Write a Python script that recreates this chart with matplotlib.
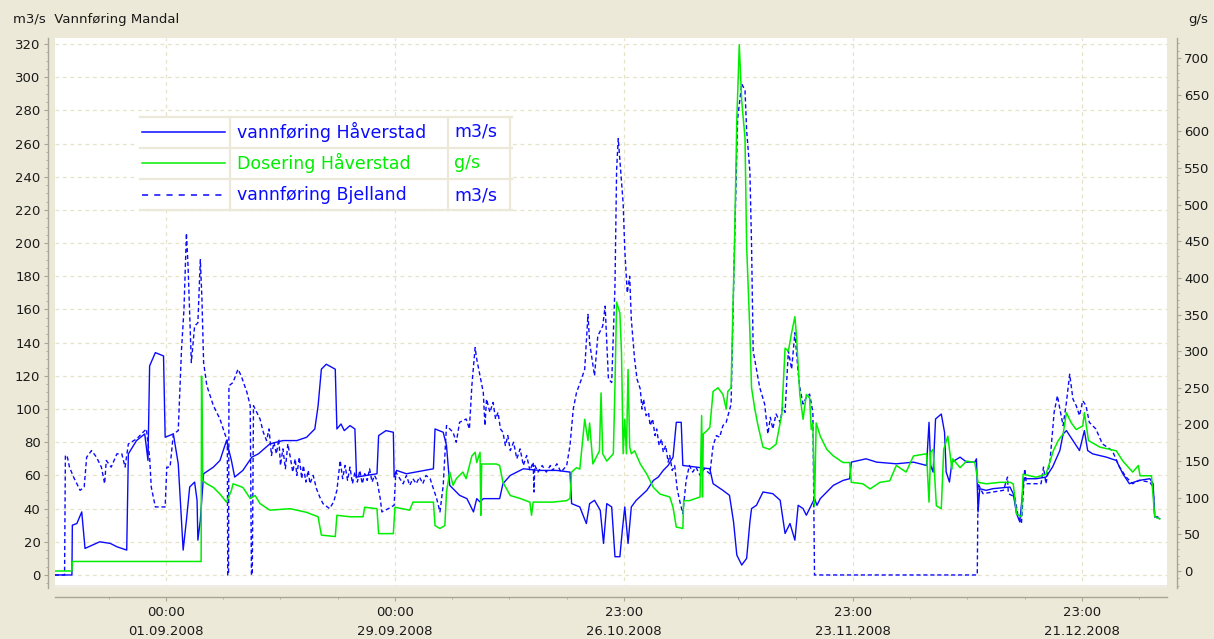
import matplotlib
matplotlib.use("Agg")
import matplotlib.pyplot as plt
from matplotlib.ticker import FixedLocator, MultipleLocator
from matplotlib.lines import Line2D
from matplotlib.patches import Rectangle

# ---------------- data (days elapsed since 01.09.2008 00:00) ----------------
hav_days = [-13.6, -11.5, -11.45, -10.9, -10.3, -10.1, -9.9, -9.0, -8.1, -6.8, -6.0, -4.8, -4.6, -3.6, -2.6,
            -2.2, -2.0, -1.3, -0.3, -0.1, 0.9, 1.5, 2.1, 2.5, 2.9, 3.5, 3.8, 3.9, 4.2, 4.6, 5.8, 6.6, 7.4,
            8.0, 8.4, 9.4, 10.5, 11.3, 12.7, 14.3, 16.0, 17.2, 18.2, 18.6, 19.0, 19.6, 20.7, 20.9, 21.4,
            21.8, 22.5, 23.1, 23.3, 24.5, 25.8, 26.0, 26.9, 27.8, 27.9, 28.2, 29.4, 30.5, 31.6, 32.7, 32.9,
            33.9, 34.3, 34.7, 35.9, 36.8, 37.6, 38.0, 38.4, 38.8, 40.8, 41.2, 42.1, 43.7, 45.7, 47.8, 49.4,
            49.6, 50.6, 51.4, 51.8, 52.4, 53.1, 53.5, 53.9, 54.5, 54.9, 55.5, 55.8, 56.1, 56.5, 56.9, 57.5,
            58.8, 59.6, 60.2, 60.8, 61.4, 62.0, 62.4, 63.0, 63.2, 64.9, 66.5, 66.9, 68.1, 68.9, 69.4, 69.8,
            70.4, 71.0, 71.4, 71.6, 72.2, 73.0, 74.2, 75.1, 75.7, 76.3, 76.9, 77.3, 77.9, 78.3, 78.9, 79.3,
            79.6, 80.0, 80.8, 81.6, 82.8, 83.6, 83.8, 85.6, 86.9, 89.3, 91.4, 93.0, 93.3, 93.5, 93.8, 94.1,
            94.8, 95.2, 95.4, 95.8, 96.1, 97.1, 97.9, 98.9, 99.1, 99.3, 99.5, 100.3, 101.1, 103.2, 103.6,
            104.0, 104.4, 104.9, 106.4, 107.6, 108.4, 109.3, 109.7, 110.1, 110.9, 111.7, 112.3, 112.7,
            113.3, 115.0, 116.2, 117.0, 117.8, 119.0, 120.3, 120.7, 120.9, 121.5]
hav_flow = [0, 0, 30, 31, 38, 27, 16, 18, 20, 19, 17, 15, 73, 81, 85,
            69, 126, 134, 132, 83, 85, 67, 15, 33, 53, 56, 45, 21, 33, 61, 65, 69, 81,
            69, 59, 63, 71, 73, 79, 81, 81, 83, 88, 102, 124, 127, 124, 88, 91,
            87, 90, 88, 59, 60, 61, 84, 87, 86, 59, 63, 61, 62, 63, 64, 88,
            86, 78, 54, 48, 46, 38, 46, 44, 46, 46, 55, 60, 64, 63, 63, 62,
            43, 41, 31, 43, 45, 39, 19, 43, 41, 11, 11, 27, 41, 19, 41, 45,
            51, 57, 59, 63, 66, 71, 92, 92, 66, 65, 64, 55, 51, 48, 32, 12,
            6, 10, 32, 40, 42, 50, 49, 45, 25, 31, 21, 42, 40, 36, 42, 46,
            42, 46, 50, 54, 57, 58, 68, 70, 68, 67, 68, 66, 92, 66, 62, 94,
            97, 86, 62, 56, 68, 71, 68, 68, 70, 38, 52, 51, 52, 53, 49,
            37, 32, 58, 58, 59, 65, 75, 85, 87, 81, 75, 87, 75,
            73, 71, 69, 61, 55, 57, 58, 55, 35, 34]

bje_days = [-13.6, -12.4, -12.3, -12.1, -11.8, -11.3, -10.9, -10.5, -10.0, -9.7, -9.1, -8.5, -7.9, -7.5, -7.3,
            -6.7, -6.0, -5.4, -5.0, -4.6, -3.6, -2.4, -2.0, -1.8, -1.3, -0.1, 0.1, 0.5, 0.9, 1.5, 1.9, 2.2,
            2.5, 2.7, 2.9, 3.1, 3.5, 3.9, 4.2, 4.4, 4.6, 5.0, 5.4, 5.8, 6.2, 6.6, 7.2, 7.5, 7.55, 7.65, 7.7,
            8.2, 8.8, 9.2, 9.9, 10.3, 10.45, 10.55, 10.7, 11.5, 11.9, 12.3, 12.6, 12.9, 13.2, 13.5, 13.8,
            14.0, 14.3, 14.6, 14.9, 15.2, 15.5, 15.8, 16.0, 16.3, 16.6, 16.8, 17.1, 17.4, 17.6, 18.0, 18.4,
            18.8, 19.2, 20.0, 20.5, 20.9, 21.3, 21.6, 21.9, 22.2, 22.5, 22.8, 23.1, 23.4, 23.7, 24.0, 24.3,
            24.6, 24.9, 25.2, 25.5, 25.8, 26.2, 26.4, 27.2, 27.9, 28.1, 28.6, 29.0, 29.4, 29.8, 30.2, 30.6,
            31.0, 31.4, 31.8, 32.3, 33.1, 33.5, 33.9, 34.3, 35.1, 35.5, 35.9, 36.7, 37.1, 37.4, 37.8, 38.0,
            38.4, 38.8, 39.0, 39.2, 39.6, 40.0, 40.3, 40.6, 40.9, 41.2, 41.5, 41.8, 42.1, 42.5, 42.9, 43.3,
            43.7, 44.1, 44.5, 44.9, 45.0, 45.1, 45.5, 46.0, 46.5, 47.0, 47.3, 47.8, 48.3, 49.0, 49.4, 49.8,
            50.2, 50.8, 51.2, 51.6, 51.8, 52.4, 52.8, 53.4, 53.7, 54.1, 54.5, 54.9, 55.1, 55.3, 55.5, 55.9,
            56.1, 56.4, 56.7, 56.9, 57.3, 57.6, 58.0, 58.2, 58.4, 58.7, 59.0, 59.2, 59.5, 59.8, 60.0, 60.3,
            60.6, 60.8, 61.1, 61.4, 61.6, 61.9, 62.2, 62.5, 62.8, 63.2, 63.6, 64.0, 64.4, 64.8, 65.3, 65.8,
            66.5, 66.9, 67.3, 67.7, 68.1, 68.5, 69.1, 69.5, 69.9, 70.4, 70.8, 71.0, 71.4, 71.6, 71.8, 72.2,
            72.6, 73.2, 73.6, 73.9, 74.2, 74.6, 75.1, 75.4, 75.7, 76.1, 76.5, 76.9, 77.3, 77.5, 77.9, 78.3,
            78.7, 79.1, 79.3, 99.2, 99.3, 99.9, 101.1, 102.4, 102.9, 103.0, 103.8, 104.2, 104.6, 105.0,
            105.2, 106.1, 107.0, 107.3, 107.6, 108.1, 108.6, 109.0, 109.3, 109.7, 110.1, 110.5, 110.9,
            111.3, 111.7, 112.1, 112.5, 112.9, 113.7, 114.5, 115.7, 116.6, 117.4, 118.2, 119.0, 120.3,
            120.7, 120.9, 121.5]
bje_flow = [0, 0, 72, 72, 65, 59, 55, 51, 53, 71, 75, 71, 65, 55, 69,
            65, 73, 73, 65, 79, 82, 88, 71, 53, 41, 41, 65, 65, 85, 87, 136, 160,
            206, 186, 156, 128, 150, 152, 190, 166, 128, 114, 108, 102, 98, 94, 85, 81, 0, 0, 114,
            116, 124, 120, 110, 102, 0, 0, 102, 94, 86, 81, 88, 72, 80, 73, 82,
            66, 76, 64, 79, 71, 62, 70, 60, 71, 58, 66, 56, 63, 55, 60, 52,
            47, 43, 40, 44, 51, 69, 58, 66, 57, 65, 55, 62, 56, 63, 55, 61,
            57, 64, 56, 60, 57, 46, 38, 40, 42, 62, 58, 55, 60, 54, 58, 55,
            59, 55, 60, 58, 46, 38, 54, 90, 86, 80, 92, 94, 88, 114, 137, 130,
            120, 110, 90, 106, 98, 104, 94, 98, 88, 86, 78, 84, 75, 80, 70, 76,
            66, 72, 63, 68, 50, 66, 62, 66, 62, 66, 63, 67, 62, 66, 78, 100,
            110, 118, 124, 157, 140, 120, 144, 150, 162, 118, 116, 174, 244, 263, 250, 224,
            196, 170, 180, 154, 130, 118, 112, 100, 106, 96, 98, 90, 94, 84, 88, 78,
            82, 74, 78, 68, 72, 63, 66, 52, 45, 37, 57, 66, 62, 65, 60, 64,
            61, 78, 84, 83, 90, 92, 103, 195, 275, 296, 292, 268, 243, 199, 135, 124,
            113, 103, 85, 95, 88, 97, 92, 101, 98, 135, 124, 146, 122, 113, 103, 107,
            109, 98, 0, 0, 55, 49, 50, 51, 59, 49, 47, 35, 31, 64,
            55, 55, 55, 65, 55, 69, 98, 108, 100, 90, 104, 121, 106,
            102, 96, 105, 102, 92, 88, 79, 75, 65, 59, 55, 57, 56,
            53, 35, 35]

dos_days = [-13.6, -11.5, -11.45, 4.3, 4.35, 4.5, 5.0, 5.8, 6.6, 7.4, 8.0, 8.2, 9.4, 10.3, 10.9, 11.5, 12.7,
            15.2, 17.2, 18.6, 19.0, 20.7, 20.9, 22.5, 24.1, 24.3, 25.8, 26.0, 27.8, 28.0, 29.8, 30.2, 32.7,
            32.9, 33.5, 34.1, 34.3, 34.7, 35.1, 35.5, 36.3, 36.7, 37.4, 37.8, 38.0, 38.4, 38.5, 38.6, 40.4,
            40.8, 41.2, 42.1, 43.3, 44.5, 44.7, 44.9, 47.3, 49.0, 49.4, 49.6, 50.2, 50.6, 51.2, 51.6, 51.8,
            52.2, 53.0, 53.2, 53.4, 53.9, 54.7, 54.9, 55.1, 55.5, 55.7, 55.9, 56.1, 56.3, 56.5, 56.7, 56.9,
            57.3, 58.0, 58.8, 59.6, 60.4, 61.6, 62.0, 62.4, 63.2, 63.3, 64.0, 65.3, 65.5, 65.6, 65.7, 66.1,
            66.5, 66.9, 67.5, 68.1, 68.5, 68.7, 69.1, 69.3, 69.5, 69.8, 70.1, 70.4, 70.8, 71.0, 71.4, 71.6,
            72.0, 72.4, 73.0, 73.8, 74.6, 75.3, 75.7, 76.1, 76.5, 76.9, 77.1, 77.5, 77.9, 78.3, 78.7, 78.9,
            79.1, 79.3, 79.5, 80.0, 80.8, 81.6, 82.8, 83.6, 83.8, 85.2, 86.1, 87.3, 88.5, 89.3, 90.5, 91.4,
            93.0, 93.3, 93.5, 93.8, 94.2, 94.8, 95.1, 95.6, 96.1, 96.2, 97.1, 97.9, 98.9, 99.3, 100.3, 102.0,
            103.2, 103.6, 104.0, 104.6, 104.8, 106.4, 107.6, 108.5, 109.1, 109.7, 110.1, 110.7, 111.3, 112.1,
            112.3, 112.8, 114.2, 116.2, 117.0, 118.2, 118.9, 119.1, 120.5, 120.9, 121.5]
dos_gs = [0, 0, 13, 13, 266, 123, 119, 114, 105, 94, 110, 119, 114, 99, 103, 92, 83,
          85, 80, 74, 49, 47, 76, 74, 74, 87, 85, 51, 51, 87, 83, 94, 94,
          62, 58, 62, 108, 135, 117, 126, 135, 126, 157, 162, 148, 162, 76, 146, 146,
          144, 121, 103, 99, 94, 76, 94, 94, 96, 99, 135, 141, 139, 207, 178, 202,
          146, 164, 243, 160, 150, 160, 252, 367, 352, 297, 160, 207, 160, 275, 169, 160,
          164, 146, 132, 114, 105, 101, 87, 60, 58, 96, 96, 101, 212, 101, 187, 191,
          196, 245, 250, 241, 221, 245, 250, 347, 435, 616, 718, 641, 591, 444, 325, 250,
          221, 198, 169, 166, 173, 214, 304, 300, 325, 347, 320, 241, 207, 241, 236, 193,
          202, 89, 202, 184, 166, 157, 148, 148, 121, 119, 112, 121, 123, 144, 135, 157,
          160, 94, 162, 166, 89, 85, 166, 184, 139, 153, 141, 150, 148, 121, 119, 121,
          121, 119, 78, 74, 132, 128, 132, 164, 178, 187, 216, 202, 193, 198,
          216, 178, 169, 164, 150, 135, 144, 130, 130, 74, 71]

x_tick_pos = [0, 28, 56, 84, 112]
x_tick_labels = ["00:00\n01.09.2008", "00:00\n29.09.2008", "23:00\n26.10.2008",
                 "23:00\n23.11.2008", "23:00\n21.12.2008"]

series_names = ["vannføring Håverstad", "Dosering Håverstad", "vannføring Bjelland"]
series_units = ["m3/s", "g/s", "m3/s"]

# ---------------- styling ----------------
BG = "#ece9d8"
BLUE = "#0a0aff"
GREEN = "#00ee00"
GRID = "#e6e2c8"
TXT = "#1a1a1a"
AXC = "#a8a696"

W, H = 1214, 639
fig = plt.figure(figsize=(W / 100, H / 100), dpi=100, facecolor=BG)
L, R, T, B = 55, 1167, 38, 588
ax = fig.add_axes([L / W, 1 - B / H, (R - L) / W, (B - T) / H], facecolor="white")
ax2 = ax.twinx()

YL = (-7.85, 323.6)
YR = (-23.2, 727.3)

ax.plot(hav_days, hav_flow, color=BLUE, lw=1.0, zorder=3)
ax.plot(bje_days, bje_flow, color=BLUE, lw=1.0, dashes=(3, 2), zorder=3)
ax2.plot(dos_days, dos_gs, color=GREEN, lw=1.1, zorder=2)

# grid
ax.set_axisbelow(True)
ax.grid(True, which="major", color=GRID, lw=0.9, dashes=(3, 3))

# spines (outward offsets in points: 1 pt = 1.39 px)
for a in (ax, ax2):
    a.spines["top"].set_visible(False)
ax.spines["right"].set_visible(False)
ax2.spines["left"].set_visible(False)
ax2.spines["bottom"].set_visible(False)
ax.spines["left"].set_position(("outward", 5))
ax.spines["bottom"].set_position(("outward", 6.5))
ax2.spines["right"].set_position(("outward", 7))
for s in (ax.spines["left"], ax.spines["bottom"], ax2.spines["right"]):
    s.set_color(AXC)
    s.set_linewidth(1.0)

# ticks
ax.xaxis.set_major_locator(FixedLocator(x_tick_pos))
ax.xaxis.set_minor_locator(FixedLocator([-14 + 7 * k for k in range(20)]))
ax.set_xticklabels(x_tick_labels, linespacing=1.6)
ax.set_yticks(range(0, 321, 20))
ax.yaxis.set_minor_locator(MultipleLocator(5))
ax2.set_yticks(range(0, 701, 50))
ax2.yaxis.set_minor_locator(MultipleLocator(10))
ax.set_xlim(-13.57, 122.4)
ax.set_ylim(*YL)
ax2.set_ylim(*YR)

for a in (ax, ax2):
    a.tick_params(which="major", length=3, width=0.8, color=AXC, labelsize=9.5, labelcolor=TXT, pad=2.5)
    a.tick_params(which="minor", length=1.6, width=0.6, color=AXC)
ax.tick_params(axis="x", which="major", pad=3.2)

# bottom light band of the plot area
ax.add_patch(Rectangle((0, 0), 1, 0.006, transform=ax.transAxes, facecolor="#eeece2",
                       edgecolor="none", zorder=1))

# titles
fig.text(13 / W, 1 - 20 / H, "m3/s  Vannføring Mandal", fontsize=9.5, color=TXT, va="center", ha="left")
fig.text(1188 / W, 1 - 20 / H, "g/s", fontsize=9.5, color=TXT, va="center", ha="left")

# legend table
def fx(px):
    return px / W

def fy(py):
    return 1 - py / H

fig.patches.append(Rectangle((fx(138), fy(211)), (512 - 138) / W, (211 - 116) / H,
                             transform=fig.transFigure, facecolor="white", edgecolor="none", zorder=5))
for yy in (117, 148, 179, 210):
    fig.add_artist(Line2D([fx(140), fx(512)], [fy(yy), fy(yy)], color=BG, lw=1.6, zorder=6))
for xx in (230, 448, 510):
    fig.add_artist(Line2D([fx(xx), fx(xx)], [fy(117), fy(210)], color=BG, lw=1.6, zorder=6))

rows_y = [132, 163, 195]
row_colors = [BLUE, GREEN, BLUE]
row_dash = [None, None, (4, 4)]
for yy, name, unit, c, d in zip(rows_y, series_names, series_units, row_colors, row_dash):
    ln = Line2D([fx(142), fx(225)], [fy(yy), fy(yy)], color=c, lw=1.1, zorder=7)
    if d:
        ln.set_dashes(d)
    fig.add_artist(ln)
    fig.text(fx(237), fy(yy), name, color=c, fontsize=12.5, va="center", ha="left", zorder=7)
    fig.text(fx(454), fy(yy), unit, color=c, fontsize=12.5, va="center", ha="left", zorder=7)

fig.savefig("out.png", dpi=100, facecolor=BG)
